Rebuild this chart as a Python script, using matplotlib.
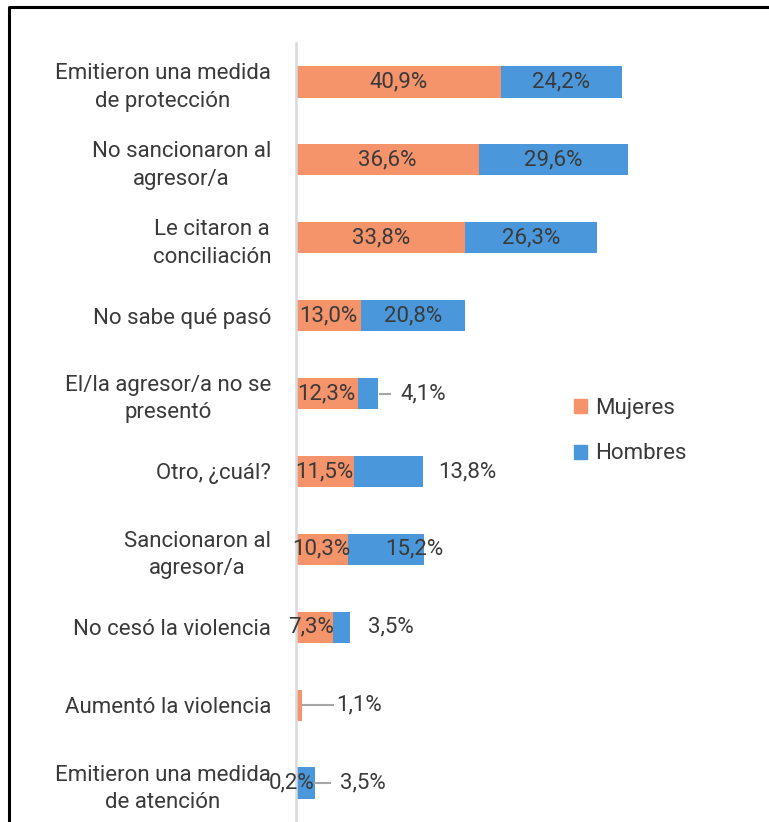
import matplotlib
matplotlib.use("Agg")
import matplotlib.pyplot as plt
from matplotlib.lines import Line2D
from matplotlib.patches import Patch

# ---------------- data ----------------
categories = [
    "Emitieron una medida\nde protección",
    "No sancionaron al\nagresor/a",
    "Le citaron a\nconciliación",
    "No sabe qué pasó",
    "El/la agresor/a no se\npresentó",
    "Otro, ¿cuál?",
    "Sancionaron al\nagresor/a",
    "No cesó la violencia",
    "Aumentó la violencia",
    "Emitieron una medida\nde atención",
]
mujeres = [40.9, 36.6, 33.8, 13.0, 12.3, 11.5, 10.3, 7.3, 1.1, 0.2]
hombres = [24.2, 29.6, 26.3, 20.8, 4.1, 13.8, 15.2, 3.5, 0.0, 3.5]
series_names = ["Mujeres", "Hombres"]

# ---------------- style ----------------
C_MUJ = "#F5936B"
C_HOM = "#4A98DB"
TXT = "#3A3A3A"
FONT = ["Roboto", "DejaVu Sans"]
FS = 16
FS_LAB = 16
plt.rcParams["font.family"] = FONT

# label placement tweaks (offsets in data units relative to bar end / segment centre)
hom_label_style = {   # row: (offset from stacked end, leader (start, end) offsets or None)
    4: (8.9, (0.4, 2.4)),
    5: (8.8, None),
    6: (-1.9, None),
    7: (8.2, None),
    8: None,            # no label (0)
    9: (9.6, (0.0, 3.1)),
}
muj_label_style = {   # row: absolute shift of label centre from segment centre, leader
    7: (-0.6, None),
    8: (12.0, (0.2, 6.3)),
    9: (-0.9, None),
}

W, H = 769, 822
fig = plt.figure(figsize=(W / 100, H / 100), dpi=100)
x0_px, top_px = 296, 43
px_per_unit = 5.01
ax = fig.add_axes([x0_px / W, 0, (W - x0_px) / W, (H - top_px) / H])
ax.set_xlim(0, (W - x0_px) / px_per_unit)
ax.set_ylim(len(categories) - 0.5, -0.5)

ypos = list(range(len(categories)))
bh = 0.4
ax.barh(ypos, mujeres, height=bh, color=C_MUJ, label=series_names[0])
ax.barh(ypos, hombres, left=mujeres, height=bh, color=C_HOM, label=series_names[1])


def fmt(v):
    return f"{v:.1f}%".replace(".", ",")


for i, (m, h) in enumerate(zip(mujeres, hombres)):
    # mujeres label
    cx = m / 2
    leader = None
    if i in muj_label_style:
        sh, leader = muj_label_style[i]
        cx = m / 2 + sh
    ax.text(cx, i, fmt(m), ha="center", va="center", fontsize=FS_LAB, color=TXT)
    if leader:
        ax.plot([m + leader[0], m + leader[1]], [i, i], color="#A6A6A6", lw=1.5)
    # hombres label
    if i in hom_label_style:
        st = hom_label_style[i]
        if st is None:
            continue
        off, leader = st
        end = m + h
        ax.text(end + off, i, fmt(h), ha="center", va="center", fontsize=FS_LAB, color=TXT)
        if leader:
            ax.plot([end + leader[0], end + leader[1]], [i, i], color="#A6A6A6", lw=1.5)
    else:
        ax.text(m + h / 2, i, fmt(h), ha="center", va="center", fontsize=FS_LAB, color=TXT)

ax.set_yticks(ypos)
ax.set_yticklabels(categories, fontsize=FS, color=TXT, ha="right", multialignment="center",
                   linespacing=1.4)
ax.tick_params(axis="y", length=0, pad=18)
ax.set_xticks([])
for s in ["top", "right", "bottom"]:
    ax.spines[s].set_visible(False)
ax.spines["left"].set_color("#D9D9D9")
ax.spines["left"].set_linewidth(1.8)

handles = [Patch(color=C_MUJ), Patch(color=C_HOM)]
leg = fig.legend(handles, series_names, loc="upper left",
                 bbox_to_anchor=(574 / W, 1 - 398 / H), bbox_transform=fig.transFigure,
                 frameon=False, fontsize=FS, handlelength=0.6, handleheight=0.6,
                 handletextpad=0.35, labelspacing=1.1, borderpad=0, borderaxespad=0)
for t in leg.get_texts():
    t.set_color(TXT)

# outer frame (top and left edges)
fig.add_artist(Line2D([8.5 / W, 8.5 / W, 1], [0, 1 - 7.5 / H, 1 - 7.5 / H],
                      transform=fig.transFigure, color="black", lw=2.2))

fig.savefig("out.png", dpi=100, facecolor="white")
